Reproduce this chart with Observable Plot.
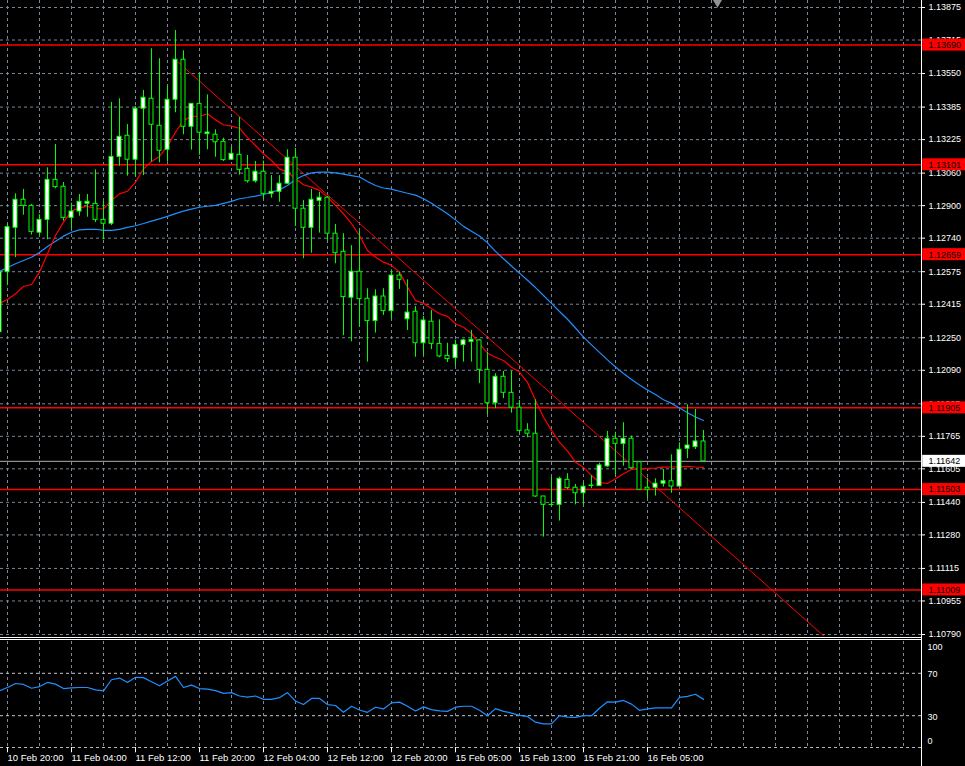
<!DOCTYPE html>
<html><head><meta charset="utf-8">
<script src="https://cdn.jsdelivr.net/npm/d3@7"></script>
<script src="https://cdn.jsdelivr.net/npm/@observablehq/plot@0.6"></script>
<style>
html,body{margin:0;padding:0;background:#000;}
#wrap{position:relative;width:965px;height:766px;background:#000;overflow:hidden;font-family:"Liberation Sans",Arial,sans-serif;}
#price{position:absolute;left:0;top:0;}
#ind{position:absolute;left:0;top:638px;}
.sep{position:absolute;left:0;width:921px;height:1px;background:#fff;}
#axisline{position:absolute;left:921px;top:0;width:1px;height:766px;background:#fff;}
svg{display:block;}
</style></head>
<body><div id="wrap"><div id="price"></div><div id="ind"></div>
<div class="sep" style="top:637px"></div><div class="sep" style="top:639px"></div>
<div id="axisline"></div></div>
<script>
// ---- data (EURUSD H1, bars indexed from 10 Feb 20:00 = 0) ----
const bars = d3.range(-1, 88);
const open = [1.12277,1.12573,1.12791,1.12929,1.12899,1.12767,1.12830,1.13027,1.12993,1.12840,1.12871,1.12909,1.12909,1.12830,1.12811,1.13140,
1.13244,1.13126,1.13377,1.13426,1.13293,1.13175,1.13421,1.13618,1.13288,1.13401,1.13252,1.13249,1.13214,1.13126,1.13150,
1.13081,1.13020,1.13067,1.12958,1.12968,1.13008,1.13136,1.12885,1.12791,1.12924,1.12939,1.12762,1.12673,1.12447,1.12575,
1.12442,1.12332,1.12453,1.12381,1.12556,1.12341,1.12378,1.12223,1.12329,1.12220,1.12161,1.12150,1.12214,1.12230,1.12237,
1.12092,1.11928,1.12058,1.11979,1.11906,1.11794,1.11778,1.11469,1.11428,1.11428,1.11551,1.11512,1.11485,1.11521,1.11520,
1.11617,1.11753,1.11728,1.11753,1.11638,1.11512,1.11512,1.11532,1.11544,1.11518,1.11704,1.11712,1.11740];
const high = [1.12591,1.12807,1.12958,1.12980,1.12906,1.12855,1.13086,1.13201,1.13014,1.12912,1.12955,1.12955,1.13076,1.12921,1.13408,1.13426,
1.13299,1.13388,1.13467,1.13672,1.13623,1.13486,1.13762,1.13662,1.13401,1.13549,1.13445,1.13273,1.13232,1.13190,1.13334,
1.13147,1.13117,1.13119,1.13048,1.13048,1.13175,1.13181,1.12925,1.12980,1.12966,1.12945,1.12807,1.12762,1.12703,1.12773,
1.12491,1.12486,1.12491,1.12584,1.12573,1.12535,1.12404,1.12355,1.12384,1.12338,1.12223,1.12237,1.12242,1.12286,1.12242,
1.12179,1.12073,1.12084,1.12084,1.11941,1.11827,1.11945,1.11469,1.11564,1.11564,1.11581,1.11528,1.11537,1.11572,1.11633,
1.11789,1.11785,1.11832,1.11766,1.11640,1.11559,1.11556,1.11602,1.11674,1.11733,1.11920,1.11897,1.11794];
const low = [1.12271,1.12507,1.12644,1.12853,1.12755,1.12752,1.12732,1.12983,1.12824,1.12786,1.12848,1.12843,1.12817,1.12732,1.12802,1.13094,
1.13045,1.13045,1.13048,1.13114,1.13111,1.13114,1.13357,1.13249,1.13173,1.13148,1.13175,1.13138,1.13117,1.13122,1.13050,
1.13011,1.13011,1.12932,1.12937,1.12917,1.13004,1.12798,1.12639,1.12666,1.12765,1.12729,1.12614,1.12260,1.12230,1.12302,
1.12130,1.12273,1.12360,1.12343,1.12488,1.12286,1.12154,1.12163,1.12192,1.12152,1.12128,1.12109,1.12130,1.12130,1.12024,
1.11871,1.11901,1.11950,1.11879,1.11778,1.11758,1.11465,1.11269,1.11420,1.11348,1.11504,1.11428,1.11428,1.11507,1.11518,
1.11613,1.11576,1.11618,1.11605,1.11500,1.11458,1.11471,1.11515,1.11485,1.11515,1.11655,1.11700,1.11638];
const close = [1.12573,1.12794,1.12929,1.12899,1.12771,1.12830,1.13027,1.12991,1.12840,1.12871,1.12919,1.12919,1.12830,1.12811,1.13140,1.13239,
1.13126,1.13377,1.13431,1.13298,1.13170,1.13421,1.13618,1.13288,1.13401,1.13259,1.13260,1.13212,1.13124,1.13155,1.13076,
1.13020,1.13067,1.12958,1.12968,1.13008,1.13136,1.12885,1.12791,1.12929,1.12939,1.12762,1.12666,1.12450,1.12575,1.12440,
1.12332,1.12453,1.12381,1.12556,1.12535,1.12374,1.12223,1.12335,1.12220,1.12158,1.12145,1.12215,1.12237,1.12240,1.12092,
1.11928,1.12058,1.11979,1.11906,1.11792,1.11778,1.11469,1.11428,1.11427,1.11556,1.11510,1.11485,1.11517,1.11523,1.11622,
1.11753,1.11728,1.11753,1.11608,1.11502,1.11502,1.11532,1.11544,1.11518,1.11699,1.11720,1.11740,1.11642];
const maFast = [1.12420,1.12438,1.12466,1.12502,1.12512,1.12573,1.12663,1.12753,1.12819,1.12873,1.12890,1.12896,1.12886,1.12884,1.12925,1.12958,
1.12971,1.13015,1.13081,1.13117,1.13142,1.13193,1.13261,1.13319,1.13340,1.13340,1.13352,1.13322,1.13298,1.13291,1.13281,
1.13235,1.13196,1.13155,1.13122,1.13081,1.13065,1.13032,1.13003,1.12991,1.12975,1.12942,1.12901,1.12860,1.12811,1.12753,
1.12679,1.12646,1.12622,1.12606,1.12573,1.12499,1.12433,1.12420,1.12393,1.12368,1.12355,1.12319,1.12302,1.12271,1.12220,
1.12174,1.12154,1.12138,1.12105,1.12081,1.12031,1.11941,1.11859,1.11794,1.11736,1.11692,1.11638,1.11612,1.11572,1.11538,
1.11533,1.11556,1.11581,1.11602,1.11605,1.11607,1.11609,1.11613,1.11614,1.11615,1.11617,1.11614,1.11612];
const maSlow = [1.12576,1.12596,1.12614,1.12630,1.12646,1.12670,1.12699,1.12725,1.12750,1.12769,1.12781,1.12783,1.12784,1.12778,1.12778,1.12783,
1.12793,1.12801,1.12812,1.12824,1.12835,1.12847,1.12861,1.12873,1.12883,1.12892,1.12897,1.12901,1.12911,1.12921,1.12934,
1.12940,1.12947,1.12955,1.12966,1.12978,1.12999,1.13029,1.13048,1.13061,1.13065,1.13065,1.13061,1.13055,1.13048,1.13041,
1.13019,1.12999,1.12987,1.12981,1.12971,1.12961,1.12952,1.12934,1.12912,1.12886,1.12860,1.12830,1.12798,1.12774,1.12751,
1.12717,1.12675,1.12639,1.12603,1.12568,1.12533,1.12497,1.12458,1.12419,1.12379,1.12341,1.12298,1.12253,1.12215,1.12178,
1.12141,1.12106,1.12074,1.12045,1.12018,1.11993,1.11971,1.11945,1.11927,1.11904,1.11881,1.11860,1.11843];
const osc = [53.4,56.6,60.4,59.5,55.9,57.5,61.4,59.8,55.6,56.3,56.6,56.6,54.3,53.4,63.9,65.5,61.4,66.2,65.9,62.0,58.2,62.7,67.1,
56.6,58.8,55.6,55.0,53.7,51.1,51.8,48.6,47.6,48.6,45.4,45.4,47.0,51.8,43.8,40.5,46.3,46.3,40.5,39.6,33.2,38.9,
35.4,33.2,38.0,36.4,42.1,42.8,38.9,34.5,38.3,35.7,34.5,34.1,38.0,38.9,38.9,35.1,30.0,36.7,34.1,32.5,
30.3,29.3,23.9,22.3,22.3,30.0,28.7,28.4,30.0,30.0,37.0,43.1,42.8,44.4,40.9,35.1,36.4,37.3,37.3,37.3,47.3,48.2,50.2,45.4];

const priceTicks = [1.13875,1.13715,1.13550,1.13385,1.13225,1.13060,1.12900,1.12740,1.12575,1.12415,1.12250,1.12090,1.11925,1.11765,1.11605,1.11440,1.11280,1.11115,1.10955,1.10790];
const levels = [1.13690,1.13101,1.12659,1.11905,1.11503,1.11009];
const currentPrice = 1.11642;
const trendLine = [{bar:21.3, price:1.13607},{bar:102.1, price:1.10780}];
const timeLabels = ["10 Feb 20:00","11 Feb 04:00","11 Feb 12:00","11 Feb 20:00","12 Feb 04:00","12 Feb 12:00","12 Feb 20:00","15 Feb 05:00","15 Feb 13:00","15 Feb 21:00","16 Feb 05:00"];
const timeLabelBars = [0,8,16,24,32,40,48,56,64,72,80];
const oscLevels = [30,70];
const oscTicks = [100,70,30,0];
const shiftMarker = [{bar:88.75, price:1.13900}];

// ---- layout ----
const X0 = -0.875, X1 = 114.25;          // plot area 0..921 px, 8 px per bar
const PRICE_BOTTOM = 1.107801, PRICE_TOP = 1.139094;
const PX_PER_PRICE = 20324;
const gridBars = d3.range(0, 116, 4);
const boxHalf = 6 / PX_PER_PRICE;
const FONT = "Liberation Sans, Arial, sans-serif";

const candles = bars.map((b, i) => ({bar: b, o: open[i], h: high[i], l: low[i], c: close[i], fast: maFast[i], slow: maSlow[i], osc: osc[i]}));
const GRID = "#778899", LIME = "#00ff00";

const price = Plot.plot({
  width: 965, height: 638,
  marginLeft: 0, marginRight: 44, marginTop: 0, marginBottom: 2,
  style: {background: "#000", color: "#fff", fontFamily: FONT, fontSize: "9px", overflow: "visible"},
  x: {type: "linear", domain: [X0, X1], axis: null},
  y: {domain: [PRICE_BOTTOM, PRICE_TOP], axis: null},
  marks: [
    Plot.ruleY(priceTicks, {stroke: GRID, strokeDasharray: "3,3"}),
    Plot.ruleX(gridBars, {stroke: GRID, strokeDasharray: "3,3"}),
    Plot.ruleY(priceTicks, {x1: X1, x2: X1 + 0.5, stroke: "#fff"}),
    Plot.ruleY(levels, {stroke: "#ff0000", strokeWidth: 1.5}),
    Plot.ruleY([currentPrice], {stroke: "#b0b0b0"}),
    Plot.line(trendLine, {x: "bar", y: "price", stroke: "#ff0000", strokeWidth: 1, clip: true}),
    Plot.line(candles, {x: "bar", y: "slow", stroke: "#1e90ff", strokeWidth: 1.2, clip: true}),
    Plot.line(candles, {x: "bar", y: "fast", stroke: "#ff0000", strokeWidth: 1.2, clip: true}),
    Plot.ruleX(candles, {x: "bar", y1: "l", y2: "h", stroke: LIME, clip: true}),
    Plot.rect(candles, {x1: d => d.bar - 0.25, x2: d => d.bar + 0.25, y1: "o", y2: "c",
      fill: d => d.c >= d.o ? "#fff" : "#000", stroke: LIME, strokeWidth: 1, clip: true}),
    Plot.dot(shiftMarker, {x: "bar", y: "price", symbol: "triangle", r: 3.5, rotate: 180, fill: "#909090"}),
    Plot.text(priceTicks, {y: d => d, text: d => d.toFixed(5), frameAnchor: "right", dx: 7, textAnchor: "start", fill: "#fff"}),
    Plot.rect(levels, {x1: X1 + 0.15, x2: X1 + 44 / 8, y1: d => d - boxHalf, y2: d => d + boxHalf, fill: "#ff0000"}),
    Plot.text(levels, {y: d => d, text: d => d.toFixed(5), frameAnchor: "right", dx: 7, textAnchor: "start", fill: "#000"}),
    Plot.rect([currentPrice], {x1: X1 + 0.15, x2: X1 + 44 / 8, y1: d => d - boxHalf, y2: d => d + boxHalf, fill: "#fff"}),
    Plot.text([currentPrice], {y: d => d, text: d => d.toFixed(5), frameAnchor: "right", dx: 7, textAnchor: "start", fill: "#000"})
  ]
});
document.getElementById("price").appendChild(price);

const ind = Plot.plot({
  width: 965, height: 128,
  marginLeft: 0, marginRight: 44, marginTop: 3, marginBottom: 19,
  style: {background: "#000", color: "#fff", fontFamily: FONT, fontSize: "9px", overflow: "visible"},
  x: {type: "linear", domain: [X0, X1], axis: null},
  y: {domain: [0, 100], axis: null},
  marks: [
    Plot.ruleX(gridBars, {stroke: GRID, strokeDasharray: "3,3"}),
    Plot.ruleY(oscLevels, {stroke: "#c8c8c8", strokeDasharray: "3,3"}),
    Plot.ruleY([0], {stroke: "#b8b8b8", strokeDasharray: "3,3"}),
    Plot.ruleX(timeLabelBars, {y1: 0, y2: -5, stroke: "#fff"}),
    Plot.line(candles, {x: "bar", y: "osc", stroke: "#1e90ff", strokeWidth: 1.2, clip: true}),
    Plot.text(timeLabels, {x: (d, i) => timeLabelBars[i], y: 0, dy: 10, dx: 0, textAnchor: "start", fill: "#fff", fontSize: 9.5}),
    Plot.text(oscTicks.filter(v => v === 100), {y: d => d, text: d => String(d), frameAnchor: "right", dx: 6, dy: 6, textAnchor: "start", fill: "#fff"}),
    Plot.text(oscTicks.filter(v => v === 70 || v === 30), {y: d => d, text: d => String(d), frameAnchor: "right", dx: 6, dy: 1, textAnchor: "start", fill: "#fff"}),
    Plot.text(oscTicks.filter(v => v === 0), {y: d => d, text: d => String(d), frameAnchor: "right", dx: 6, dy: -6, textAnchor: "start", fill: "#fff"})
  ]
});
document.getElementById("ind").appendChild(ind);
</script>
</body></html>
